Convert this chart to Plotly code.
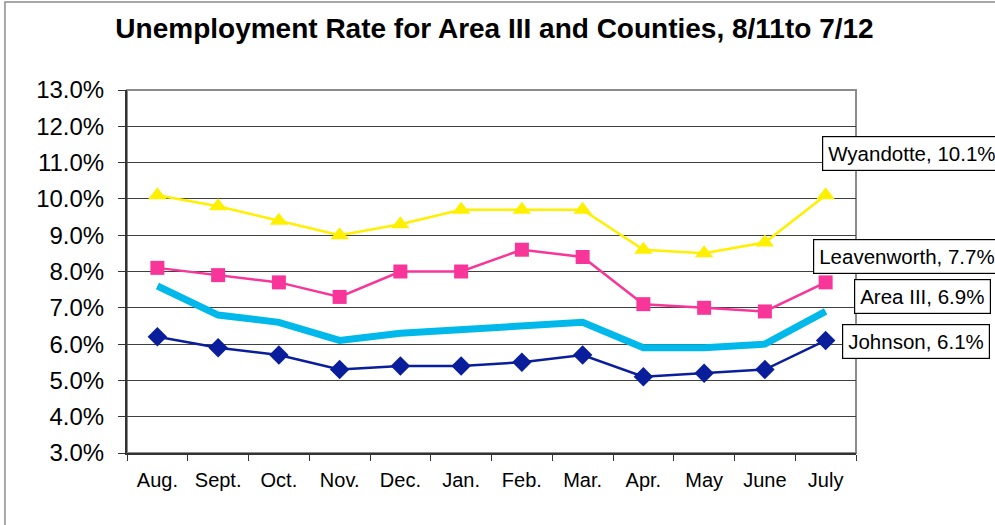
import plotly.graph_objects as go

months = ["Aug.", "Sept.", "Oct.", "Nov.", "Dec.", "Jan.", "Feb.", "Mar.", "Apr.", "May", "June", "July"]
wyandotte = [10.1, 9.8, 9.4, 9.0, 9.3, 9.7, 9.7, 9.7, 8.6, 8.5, 8.8, 10.1]
leavenworth = [8.1, 7.9, 7.7, 7.3, 8.0, 8.0, 8.6, 8.4, 7.1, 7.0, 6.9, 7.7]
area3 = [7.6, 6.8, 6.6, 6.1, 6.3, 6.4, 6.5, 6.6, 5.9, 5.9, 6.0, 6.9]
johnson = [6.2, 5.9, 5.7, 5.3, 5.4, 5.4, 5.5, 5.7, 5.1, 5.2, 5.3, 6.1]

FONT = "Liberation Sans, Arial, sans-serif"

fig = go.Figure()
fig.add_trace(go.Scatter(x=months, y=wyandotte, name="Wyandotte", mode="lines+markers",
                         line=dict(color="#FFF000", width=2.5),
                         marker=dict(symbol="triangle-up", size=16, color="#FFF000")))
fig.add_trace(go.Scatter(x=months, y=leavenworth, name="Leavenworth", mode="lines+markers",
                         line=dict(color="#F8369A", width=2.5),
                         marker=dict(symbol="square", size=14, color="#F8369A")))
fig.add_trace(go.Scatter(x=months, y=area3, name="Area III", mode="lines",
                         line=dict(color="#00B9EA", width=7)))
fig.add_trace(go.Scatter(x=months, y=johnson, name="Johnson", mode="lines+markers",
                         line=dict(color="#0A1E9C", width=2.5),
                         marker=dict(symbol="diamond", size=15, color="#0A1E9C")))

labels = [
    ("Wyandotte", wyandotte, 0.953, 11.24),
    ("Leavenworth", leavenworth, 0.941, 8.41),
    ("Area III", area3, 0.997, 7.30),
    ("Johnson", johnson, 0.981, 6.07),
]
for name, vals, px, py in labels:
    fig.add_annotation(xref="paper", yref="y", x=px, y=py, xanchor="left", yanchor="middle",
                       text=f"{name}, {vals[-1]:.1f}%", showarrow=False,
                       font=dict(family=FONT, size=20.5, color="black"),
                       bgcolor="white", bordercolor="black", borderwidth=1.2, borderpad=5)

fig.update_layout(
    width=995, height=525,
    margin=dict(l=127, r=139, t=90, b=72),
    paper_bgcolor="white", plot_bgcolor="white",
    showlegend=False,
    title=dict(text="<b>Unemployment Rate for Area III and Counties, 8/11to 7/12</b>",
               x=0.497, xanchor="center", y=0.947, yanchor="middle",
               font=dict(family=FONT, size=28, color="black")),
    font=dict(family=FONT, color="black"),
    shapes=[
        dict(type="rect", xref="paper", yref="paper", x0=0, x1=1, y0=0, y1=1,
             line=dict(color="#8C8C8C", width=2), layer="below"),
        dict(type="rect", xref="paper", yref="paper", x0=-0.1674, x1=1.3, y0=-0.3, y1=1.2424,
             line=dict(color="#8C8C8C", width=1.5), layer="below"),
    ],
)
fig.update_xaxes(showline=True, linecolor="#333333", linewidth=2, ticks="outside",
                 tickson="boundaries", ticklen=6, tickcolor="#333333", showgrid=False,
                 tickfont=dict(size=20), range=[-0.5, 11.5], ticklabelstandoff=8)
fig.update_yaxes(range=[3, 13], dtick=1, tickformat=".1f", ticksuffix="%",
                 showline=True, linecolor="#333333", linewidth=2, ticks="outside", ticklen=7,
                 tickcolor="#333333", showgrid=True, gridcolor="#404040", gridwidth=1,
                 tickfont=dict(size=24), zeroline=False, ticklabelstandoff=9)

fig.write_html("out.html", config={"displayModeBar": False},
               post_script="document.body.style.margin='0px';")
